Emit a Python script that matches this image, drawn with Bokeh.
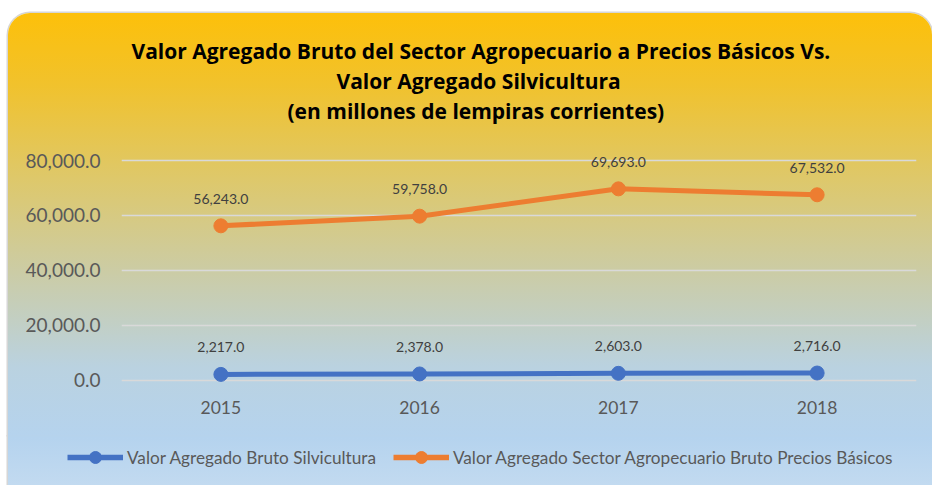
from bokeh.plotting import figure
from bokeh.models import (ColumnDataSource, LabelSet, Title, Legend, LegendItem,
                          NumeralTickFormatter, FixedTicker, Range1d, Grid)
from bokeh.core.properties import value
from bokeh.embed import file_html
from bokeh.resources import INLINE

years = ["2015", "2016", "2017", "2018"]
silvicultura = [2217.0, 2378.0, 2603.0, 2716.0]
agropecuario = [56243.0, 59758.0, 69693.0, 67532.0]
y_ticks = [0, 20000, 40000, 60000, 80000]
title_lines = [
    "Valor Agregado Bruto del Sector Agropecuario a Precios Básicos Vs.",
    "Valor Agregado Silvicultura",
    "(en millones de lempiras corrientes)",
]
series_names = ["Valor Agregado Bruto Silvicultura",
                "Valor Agregado Sector Agropecuario Bruto Precios Básicos"]

BLUE = "#4472C4"
ORANGE = "#ED7D31"
FONT = "Lato"
TFONT = "Open Sans"

W = 924
p = figure(width=W, height=422, x_range=years, y_range=(-1455, 93091),
           title=None, output_backend="svg", toolbar_location=None,
           min_border_left=113, min_border_right=16,
           min_border_top=111, min_border_bottom=51)
p.styles = {
    "margin-left": "8px",
    "margin-top": "13px",
    "background": "linear-gradient(180deg, #FDC00A 0px, #F1C22C 71px, #DEC86A 165px, "
                  "#CBCCA6 260px, #BAD2E0 354px, #B5D3EE 425px)",
    "box-shadow": "0 0 0 1.5px #D6D6D6",
    "border-radius": "22px 22px 0 0",
}
p.background_fill_color = None
p.border_fill_color = None
p.outline_line_color = None

p.xgrid.grid_line_color = None
p.ygrid.grid_line_color = "#D9D9D9"
p.ygrid.grid_line_width = 1.6

p.yaxis.ticker = FixedTicker(ticks=y_ticks)
p.yaxis.formatter = NumeralTickFormatter(format="0,0.0")
for ax in (p.xaxis[0], p.yaxis[0]):
    ax.axis_line_color = None
    ax.major_tick_line_color = None
    ax.minor_tick_line_color = None
    ax.major_label_text_color = "#595959"
    ax.major_label_text_font = FONT
p.yaxis.major_label_text_font_size = "19px"
p.yaxis.major_label_standoff = 15
p.xaxis.major_label_text_font_size = "17.5px"
p.xaxis.major_label_standoff = 10

src_b = ColumnDataSource(dict(x=years, y=silvicultura,
                              t=[f"{v:,.1f}" for v in silvicultura]))
src_o = ColumnDataSource(dict(x=years, y=agropecuario,
                              t=[f"{v:,.1f}" for v in agropecuario]))

lb = p.line("x", "y", source=src_b, line_color=BLUE, line_width=5)
sb = p.scatter("x", "y", source=src_b, size=14, fill_color=BLUE, line_color=BLUE)
lo = p.line("x", "y", source=src_o, line_color=ORANGE, line_width=5)
so = p.scatter("x", "y", source=src_o, size=14, fill_color=ORANGE, line_color=ORANGE)

for src in (src_b, src_o):
    p.add_layout(LabelSet(x="x", y="y", text="t", source=src, y_offset=27,
                          text_align="center", text_baseline="middle",
                          text_font=value(FONT), text_font_size=value("14px"),
                          text_color="#404040"))

# title lines, added from the one nearest the plot outward
title_offsets = [10, 215, 166]
for line, off in reversed(list(zip(title_lines, title_offsets))):
    p.add_layout(Title(text=line, align="left", offset=off, standoff=0,
                       text_font=TFONT, text_font_style="bold",
                       text_font_size="21px", text_color="#000000"), "above")

# legend strip below the plot (its glyphs lie outside its own view)
q = figure(width=W, height=50, x_range=years, y_range=Range1d(-2, -1),
           output_backend="svg", toolbar_location=None,
           x_axis_location=None, y_axis_location=None,
           min_border_left=0, min_border_right=0,
           min_border_top=0, min_border_bottom=0)
q.styles = {
    "margin-left": "8px",
    "background": "linear-gradient(180deg, #B6D3EC 0px, #B5D3EE 3px, #C2DAF0 50px)",
    "box-shadow": "-1.5px 0 0 0 #D6D6D6, 1.5px 0 0 0 #D6D6D6",
}
q.background_fill_color = None
q.border_fill_color = None
q.outline_line_color = None
for r in q.center:
    if isinstance(r, Grid):
        r.visible = False
qlb = q.line("x", "y", source=src_b, line_color=BLUE, line_width=5.5)
qsb = q.scatter("x", "y", source=src_b, size=14, fill_color=BLUE, line_color=BLUE)
qlo = q.line("x", "y", source=src_o, line_color=ORANGE, line_width=5.5)
qso = q.scatter("x", "y", source=src_o, size=14, fill_color=ORANGE, line_color=ORANGE)

legend = Legend(items=[LegendItem(label=series_names[0], renderers=[qlb, qsb]),
                       LegendItem(label=series_names[1], renderers=[qlo, qso])],
                orientation="horizontal", location=(59, 13),
                glyph_width=56, glyph_height=30, label_standoff=4, spacing=17,
                padding=0, margin=0, label_text_font=FONT,
                label_text_font_size="17.2px", label_text_color="#595959",
                background_fill_alpha=0, border_line_color=None)
q.add_layout(legend, "center")

open("out.html", "w").write(file_html([p, q], INLINE))
